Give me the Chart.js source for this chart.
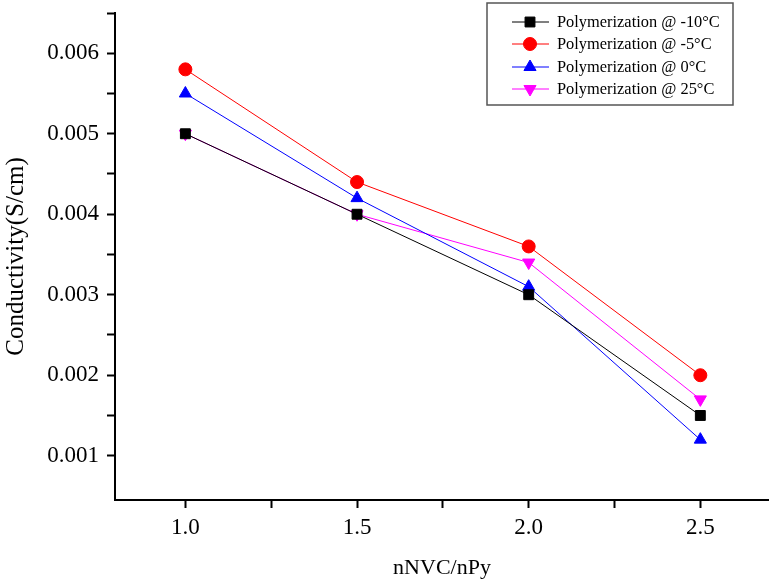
<!DOCTYPE html>
<html>
<head>
<meta charset="utf-8">
<script src="https://cdn.jsdelivr.net/npm/chart.js@4.4.1/dist/chart.umd.min.js"></script>
<style>
  html, body { margin: 0; padding: 0; background: #fff; }
  #wrap { width: 769px; height: 581px; }
</style>
</head>
<body>
<div id="wrap"><canvas id="chart" width="769" height="581"></canvas></div>
<script>
// nNVC/nPy ratios (x)
const ratios = [1.0, 1.5, 2.0, 2.5];

// conductivity (S/cm) per polymerization temperature
const condMinus10 = [0.0050, 0.0040, 0.0030, 0.0015];
const condMinus5 = [0.0058, 0.0044, 0.0036, 0.0020];
const cond0 = [0.0055, 0.0042, 0.0031, 0.0012];
const cond25 = [0.0050, 0.0040, 0.0034, 0.0017];

const seriesLabels = [
  'Polymerization @ -10°C',
  'Polymerization @ -5°C',
  'Polymerization @ 0°C',
  'Polymerization @ 25°C'
];

// tick positions (majors carry a label, the rest are minor marks)
const xTicks = [1.0, 1.25, 1.5, 1.75, 2.0, 2.25, 2.5];
const xLabelled = [1.0, 1.5, 2.0, 2.5];
const yTicks = [0.001, 0.0015, 0.002, 0.0025, 0.003, 0.0035, 0.004, 0.0045, 0.005, 0.0055, 0.006, 0.0065];
const yLabelled = [0.001, 0.002, 0.003, 0.004, 0.005, 0.006];

const SERIF = '"Liberation Serif", "Times New Roman", serif';

function toPoints(ys) {
  return ratios.map((x, i) => ({ x: x, y: ys[i] }));
}

function makeSet(label, ys, color, style, rotation, radius) {
  return {
    label: label,
    data: toPoints(ys),
    borderColor: color,
    backgroundColor: color,
    borderWidth: 1,
    pointStyle: style,
    pointRotation: rotation,
    pointRadius: radius,
    pointBorderWidth: 1,
    pointHoverRadius: radius,
    tension: 0
  };
}

function isIn(list, v) {
  return list.some(t => Math.abs(t - v) < 1e-9);
}

// legend drawn as a framed box inside the plot, like the original figure
const boxLegend = {
  id: 'boxLegend',
  afterDraw(chart) {
    const ctx = chart.ctx;
    const left = 487, top = 3, width = 246, height = 102;
    const rows = [22, 44, 67, 89];
    ctx.save();
    ctx.strokeStyle = '#555';
    ctx.lineWidth = 1.5;
    ctx.strokeRect(left, top, width, height);
    ctx.font = '16.4px ' + SERIF;
    ctx.textBaseline = 'middle';
    chart.data.datasets.forEach((ds, i) => {
      const y = rows[i];
      ctx.strokeStyle = ds.borderColor;
      ctx.fillStyle = ds.backgroundColor;
      ctx.lineWidth = 1;
      ctx.beginPath();
      ctx.moveTo(512, y);
      ctx.lineTo(549, y);
      ctx.stroke();
      Chart.helpers.drawPoint(ctx, {
        pointStyle: ds.pointStyle,
        radius: ds.pointRadius,
        rotation: ds.pointRotation,
        borderWidth: 1
      }, 530, y);
      ctx.fillStyle = '#000';
      ctx.fillText(ds.label, 557, y + 1);
    });
    ctx.restore();
  }
};

// no extra room for overhanging labels: the plot runs to the canvas edge
function noPad(scale) {
  scale.paddingLeft = 0;
  scale.paddingRight = 0;
  scale.paddingTop = 0;
  scale.paddingBottom = 0;
}

new Chart(document.getElementById('chart'), {
  type: 'line',
  data: {
    datasets: [
      makeSet(seriesLabels[0], condMinus10, '#000000', 'rect', 0, 7),
      makeSet(seriesLabels[1], condMinus5, '#ff0000', 'circle', 0, 6.5),
      makeSet(seriesLabels[2], cond0, '#0000ff', 'triangle', 0, 7),
      makeSet(seriesLabels[3], cond25, '#ff00ff', 'triangle', 180, 7)
    ]
  },
  options: {
    responsive: false,
    animation: false,
    layout: { autoPadding: false, padding: { top: 13, right: 0, left: 0, bottom: 0 } },
    plugins: {
      legend: { display: false },
      tooltip: { enabled: false }
    },
    scales: {
      x: {
        type: 'linear',
        min: 0.795,
        max: 2.7,
        afterBuildTicks: scale => {
          scale.ticks = xTicks.map(v => ({ value: v }));
        },
        afterFit: scale => { scale.height = 81; noPad(scale); },
        ticks: {
          autoSkip: false,
          maxRotation: 0,
          padding: 6,
          color: '#000',
          font: { family: SERIF, size: 23 },
          callback: v => isIn(xLabelled, v) ? Number(v).toFixed(1) : ''
        },
        grid: {
          drawOnChartArea: false,
          drawTicks: true,
          tickLength: 8,
          tickWidth: 2,
          tickColor: '#000'
        },
        border: { display: true, color: '#000', width: 2 },
        title: {
          display: true,
          text: 'nNVC/nPy',
          color: '#000',
          font: { family: SERIF, size: 22 },
          padding: { top: 0, bottom: 0 }
        }
      },
      y: {
        min: 0.00045,
        max: 0.0065,
        afterBuildTicks: scale => {
          scale.ticks = yTicks.map(v => ({ value: v }));
        },
        afterFit: scale => { scale.width = 115; noPad(scale); },
        ticks: {
          autoSkip: false,
          padding: 8,
          color: '#000',
          font: { family: SERIF, size: 23 },
          callback: v => isIn(yLabelled, v) ? Number(v).toFixed(3) : ''
        },
        grid: {
          drawOnChartArea: false,
          drawTicks: true,
          tickLength: 8,
          tickWidth: 2,
          tickColor: '#000'
        },
        border: { display: true, color: '#000', width: 2 },
        title: {
          display: true,
          text: 'Conductivity(S/cm)',
          color: '#000',
          font: { family: SERIF, size: 25 },
          padding: { top: 1, bottom: 0 }
        }
      }
    }
  },
  plugins: [boxLegend]
});
</script>
</body>
</html>
